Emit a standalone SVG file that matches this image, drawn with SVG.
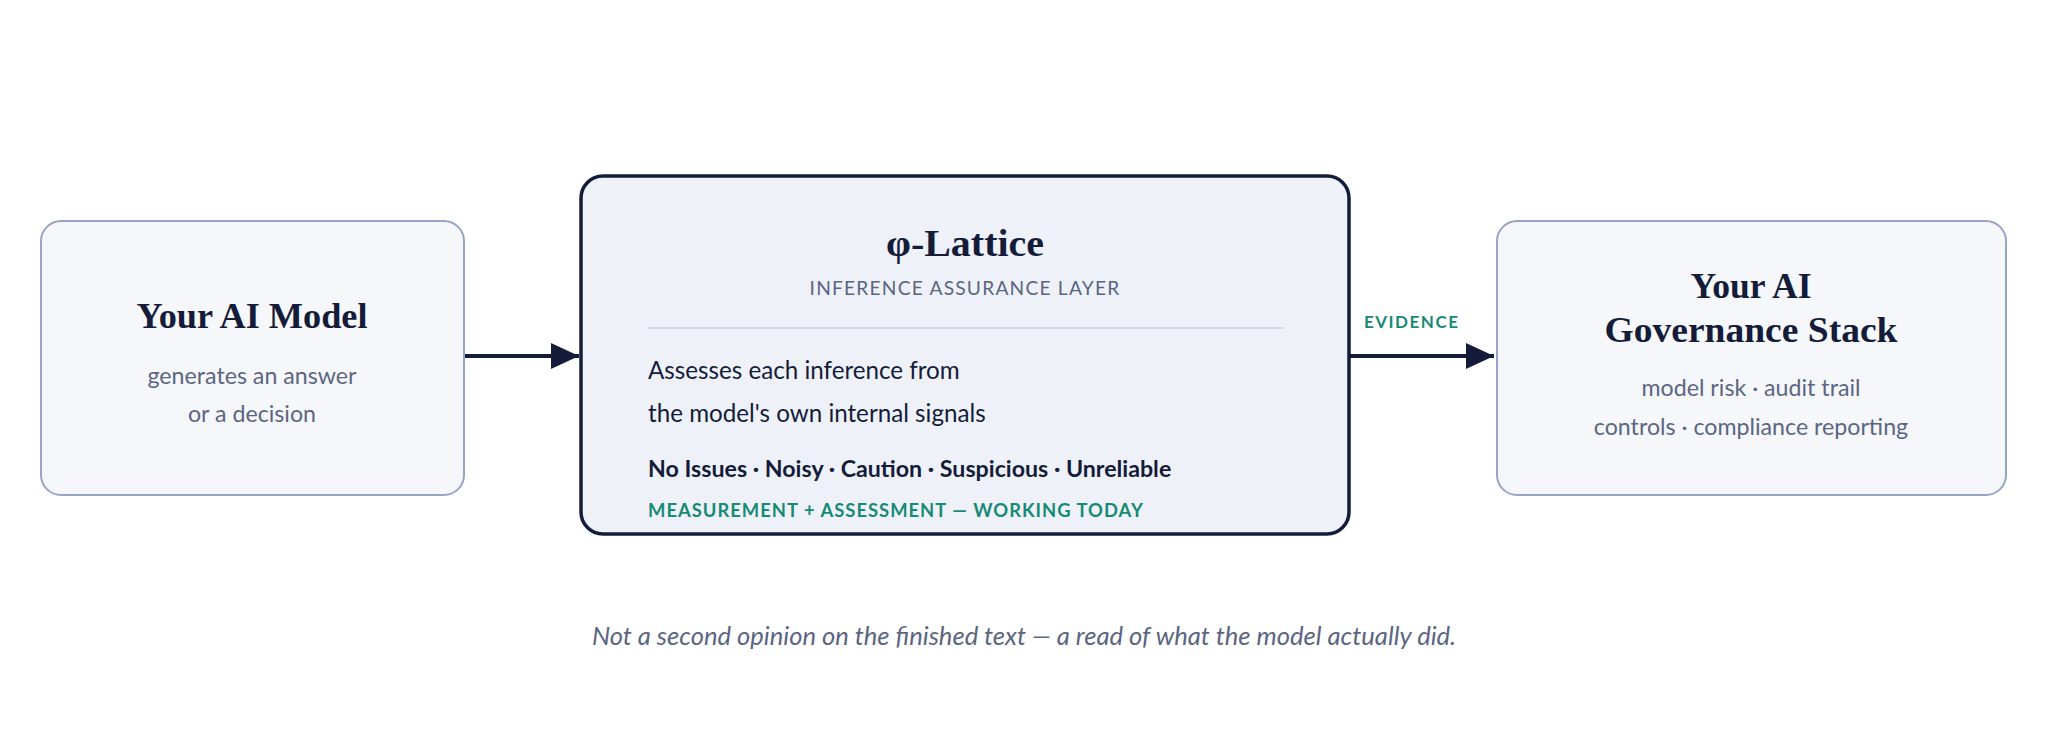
<svg xmlns="http://www.w3.org/2000/svg" width="2048" height="752" viewBox="0 0 2048 752">
<defs>
<style>
.side{fill:#f5f7fb;stroke:#98a4c6;stroke-width:2}
.core{fill:#eef1f8;stroke:#141c3a;stroke-width:3.5}
.h{font-family:"Liberation Serif","DejaVu Serif",serif;font-weight:bold;fill:#141c3a;text-anchor:middle}
.sub{font-family:Lato,"Liberation Sans",sans-serif;font-size:23.2px;fill:#5b6582;text-anchor:middle}
.body{font-family:Lato,"Liberation Sans",sans-serif;font-size:24.2px;fill:#141c3a}
.tags{font-family:Lato,"Liberation Sans",sans-serif;font-size:23.2px;font-weight:bold;fill:#141c3a}
.teal{font-family:Lato,"Liberation Sans",sans-serif;font-weight:bold;fill:#178a76}
.conn{stroke:#141c3a;stroke-width:4;fill:none}
</style>
<marker id="arr" markerUnits="userSpaceOnUse" markerWidth="30" markerHeight="30" refX="28" refY="15" orient="auto">
<path d="M0,2 L28,15 L0,28 Z" fill="#141c3a"/>
</marker>
</defs>
<rect width="2048" height="752" fill="#ffffff"/>
<g id="connectors">
<line class="conn" x1="464" y1="356" x2="579" y2="356" marker-end="url(#arr)"/>
<line class="conn" x1="1349" y1="356" x2="1494" y2="356" marker-end="url(#arr)"/>
<text class="teal" x="1364" y="328" font-size="17" letter-spacing="1.5">EVIDENCE</text>
</g>
<g id="node-model">
<rect class="side" x="41" y="221" width="423" height="274" rx="20"/>
<text class="h" x="252" y="328" font-size="35" textLength="231" lengthAdjust="spacingAndGlyphs">Your AI Model</text>
<text class="sub" x="252" y="384">generates an answer</text>
<text class="sub" x="252" y="422">or a decision</text>
</g>
<g id="node-lattice">
<rect class="core" x="581" y="176" width="768" height="358" rx="22"/>
<text class="h" x="965" y="256" font-size="38" textLength="158" lengthAdjust="spacingAndGlyphs">φ-Lattice</text>
<text x="965" y="295" font-family="Lato,'Liberation Sans',sans-serif" font-size="19.2" fill="#5b6582" text-anchor="middle" letter-spacing="1.2">INFERENCE ASSURANCE LAYER</text>
<line x1="648" y1="328" x2="1284" y2="328" stroke="#d3d8e3" stroke-width="2"/>
<text class="body" x="648" y="379">Assesses each inference from</text>
<text class="body" x="648" y="422">the model's own internal signals</text>
<text class="tags" x="648" y="477">No Issues · Noisy · Caution · Suspicious · Unreliable</text>
<text class="teal" x="648" y="517" font-size="18.4" letter-spacing="1">MEASUREMENT + ASSESSMENT — WORKING TODAY</text>
</g>
<g id="node-governance">
<rect class="side" x="1497" y="221" width="509" height="274" rx="20"/>
<text class="h" x="1751" y="298" font-size="35" textLength="121" lengthAdjust="spacingAndGlyphs">Your AI</text>
<text class="h" x="1751" y="342" font-size="35" textLength="293" lengthAdjust="spacingAndGlyphs">Governance Stack</text>
<text class="sub" x="1751" y="396">model risk · audit trail</text>
<text class="sub" x="1751" y="435">controls · compliance reporting</text>
</g>
<text x="1024" y="645" font-family="Lato,'Liberation Sans',sans-serif" font-style="italic" font-size="25.6" fill="#5b6582" text-anchor="middle">Not a second opinion on the finished text — a read of what the model actually did.</text>
</svg>
